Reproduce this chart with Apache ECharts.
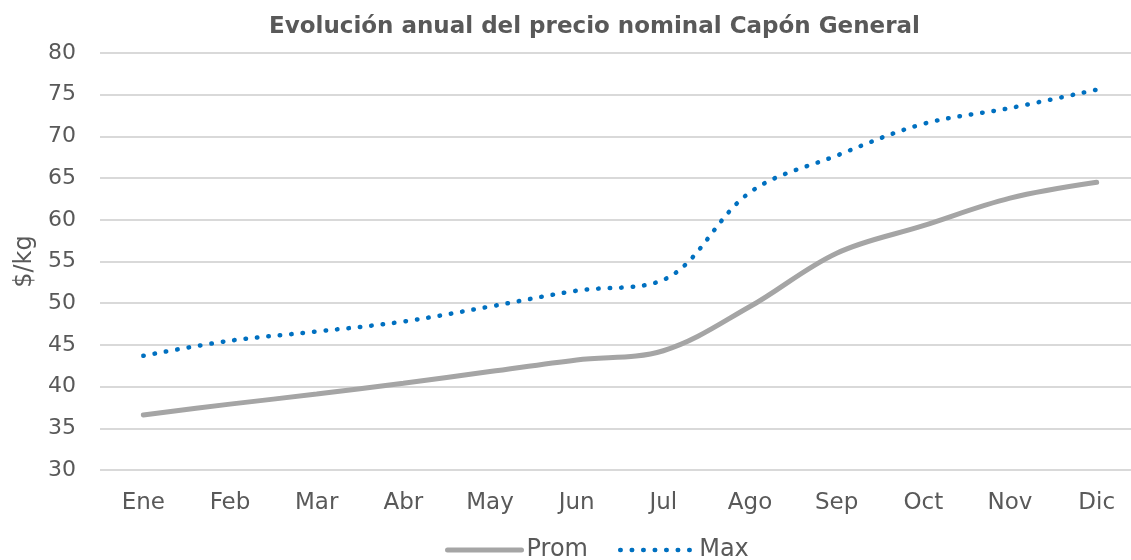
<!DOCTYPE html>
<html>
<head>
<meta charset="utf-8">
<script src="https://cdn.jsdelivr.net/npm/echarts@6/dist/echarts.min.js"></script>
<style>
html,body{margin:0;padding:0;background:#fff;}
#chart{width:1131px;height:560px;}
</style>
</head>
<body>
<div id="chart"></div>
<script>
const titleText = 'Evolución anual del precio nominal Capón General';
const categories = ['Ene','Feb','Mar','Abr','May','Jun','Jul','Ago','Sep','Oct','Nov','Dic'];
const promValues = [36.6, 37.9, 39.1, 40.4, 41.8, 43.2, 44.3, 49.6, 56.0, 59.3, 62.6, 64.5];
const maxValues = [43.7, 45.5, 46.6, 47.8, 49.6, 51.5, 52.8, 63.3, 67.7, 71.5, 73.4, 75.6];
const yAxisName = '$/kg';
const seriesNames = ['Prom', 'Max'];

const FONT = 'DejaVu Sans';
const TXT = '#595959';
const promStyle = { color: '#a5a5a5', width: 5, cap: 'round' };
const maxStyle = { color: '#0070c0', width: 4.5, type: [0.5, 11], cap: 'round' };
const chart = echarts.init(document.getElementById('chart'));
chart.setOption({
  animation: false,
  backgroundColor: '#ffffff',
  title: {
    text: titleText,
    left: 264,
    top: 11,
    textStyle: { fontFamily: FONT, fontSize: 23, fontWeight: 'bold', color: TXT }
  },
  legend: {
    top: 533,
    left: 440,
    itemWidth: 74,
    itemHeight: 14,
    itemGap: 30,
    itemStyle: { opacity: 0 },
    textStyle: { fontFamily: FONT, fontSize: 24, color: TXT },
    data: [
      { name: seriesNames[0], lineStyle: promStyle },
      { name: seriesNames[1], lineStyle: maxStyle }
    ]
  },
  grid: { left: 100, width: 1040, top: 53, bottom: 90, outerBoundsMode: 'none' },
  xAxis: {
    type: 'category',
    data: categories,
    boundaryGap: true,
    axisLine: { show: false },
    axisTick: { show: false },
    axisLabel: { fontFamily: FONT, fontSize: 23, color: TXT, margin: 22 }
  },
  yAxis: {
    type: 'value',
    min: 30, max: 80, interval: 5,
    name: yAxisName,
    nameLocation: 'middle',
    nameGap: 62,
    nameTextStyle: { fontFamily: FONT, fontSize: 24, color: TXT },
    axisLine: { show: false },
    axisTick: { show: false },
    axisLabel: { fontFamily: FONT, fontSize: 22, color: TXT, margin: 24 },
    splitLine: { lineStyle: { color: '#d9d9d9', width: 2 } }
  },
  series: [
    {
      name: seriesNames[0], type: 'line', data: promValues, smooth: 0.35,
      symbol: 'none',
      lineStyle: promStyle,
      itemStyle: { color: '#a5a5a5' }
    },
    {
      name: seriesNames[1], type: 'line', data: maxValues, smooth: 0.35,
      symbol: 'none',
      lineStyle: maxStyle,
      itemStyle: { color: '#0070c0' }
    }
  ]
});
</script>
</body>
</html>
